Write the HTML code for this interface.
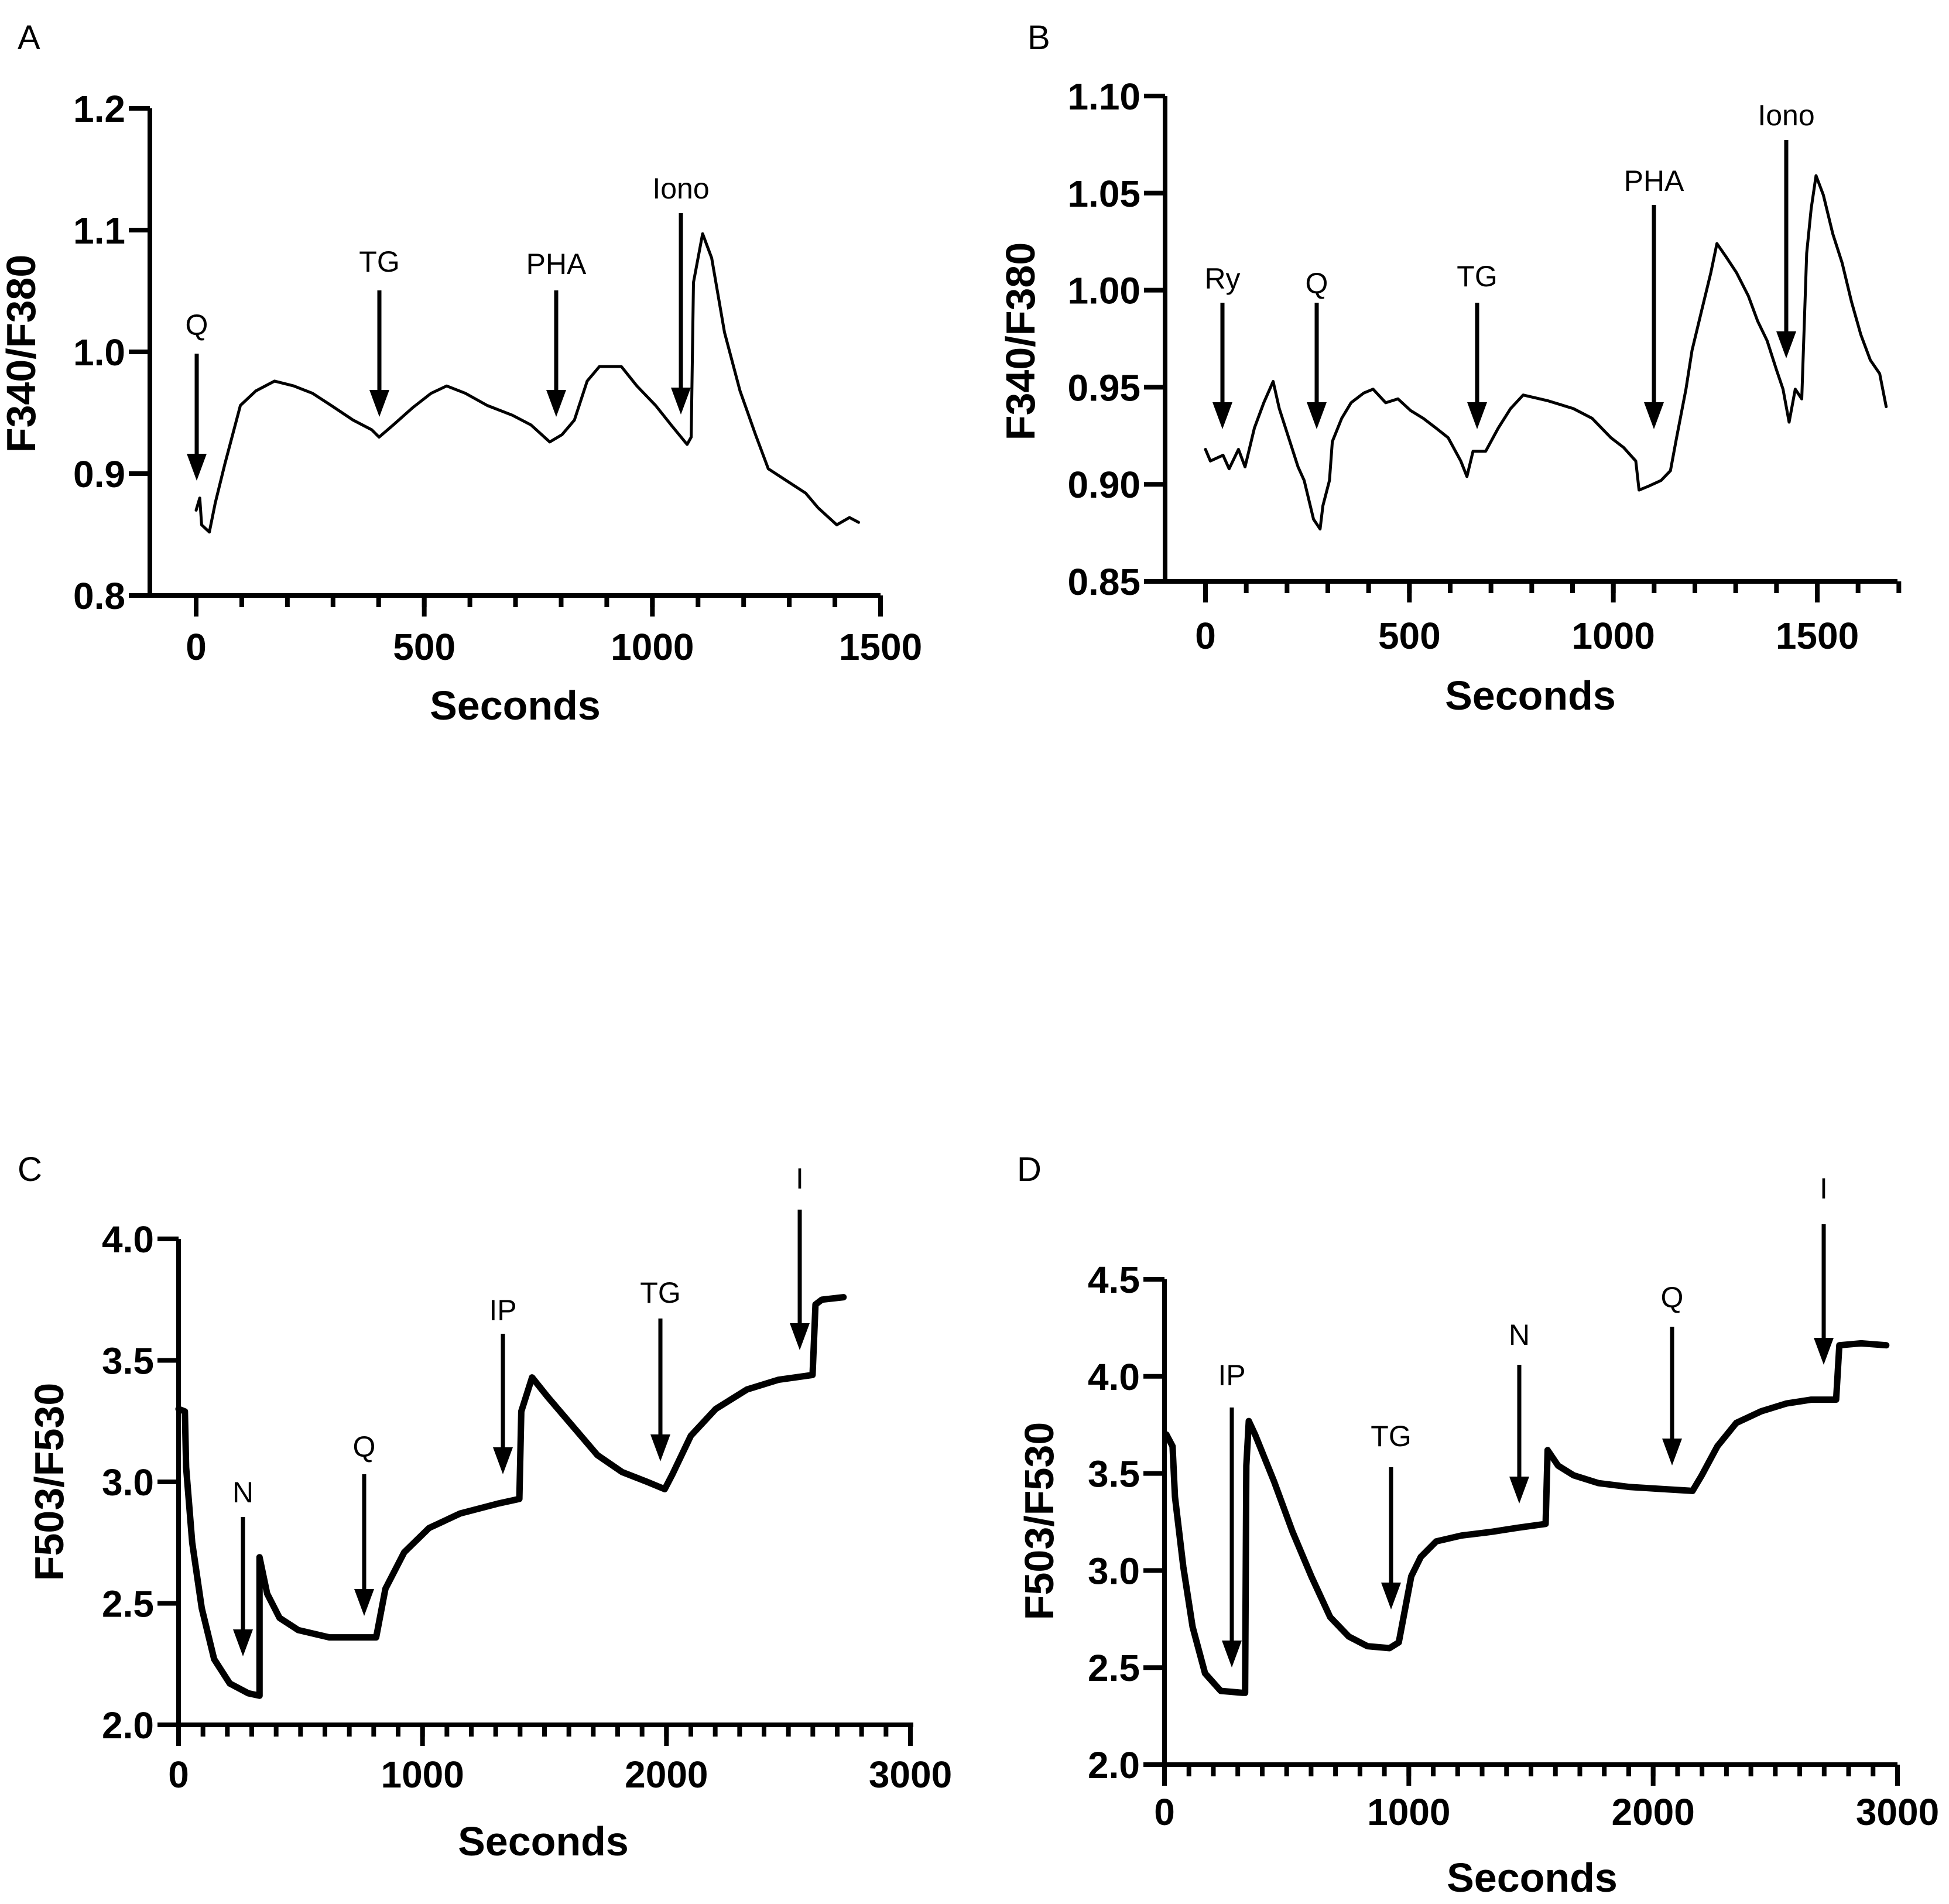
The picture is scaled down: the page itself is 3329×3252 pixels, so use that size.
<!DOCTYPE html>
<html><head><meta charset="utf-8"><style>
html,body{margin:0;padding:0;background:#fff}
svg{display:block}
text{font-family:"Liberation Sans",Arial,sans-serif;fill:#000}
.tick{font-weight:bold;font-size:64px}
.title{font-weight:bold;font-size:70px}
.ann{font-size:50px}
.panel{font-size:58px}
</style></head><body>
<svg id="fig" width="3329" height="3252" viewBox="0 0 3329 3252" xmlns="http://www.w3.org/2000/svg"></svg>
<script>
// Panel A data
const aTimes=[0,8,12,29,42,63,97,131,172,214,255,296,344,385,401,432,474,515,549,590,638,693,734,775,802,829,857,884,932,966,1007,1041,1076,1085,1090,1110,1130,1158,1192,1226,1254,1295,1336,1363,1404,1432,1452];
const aValues=[0.870,0.880,0.858,0.852,0.876,0.908,0.956,0.968,0.976,0.972,0.966,0.956,0.944,0.936,0.930,0.940,0.954,0.966,0.972,0.966,0.956,0.948,0.940,0.926,0.932,0.944,0.976,0.988,0.988,0.972,0.956,0.940,0.924,0.930,1.057,1.097,1.077,1.016,0.968,0.932,0.904,0.894,0.884,0.872,0.858,0.864,0.860];
const aArrowLabels=["Q","TG","PHA","Iono"];
const aYTicks=["0.8","0.9","1.0","1.1","1.2"];
const aXTicks=["0","500","1000","1500"];
// Panel B data
const bTimes=[0,12,43,58,81,97,120,143,166,181,204,227,242,265,281,288,304,311,334,357,388,411,442,472,503,534,565,595,626,641,656,687,718,748,779,840,902,948,994,1025,1055,1063,1086,1117,1140,1155,1178,1193,1216,1239,1254,1277,1302,1331,1354,1377,1400,1416,1431,1446,1462,1474,1485,1497,1515,1538,1561,1584,1607,1630,1653,1669];
const bValues=[0.918,0.912,0.915,0.908,0.918,0.909,0.929,0.942,0.953,0.939,0.924,0.909,0.902,0.882,0.877,0.889,0.902,0.922,0.934,0.942,0.947,0.949,0.942,0.944,0.938,0.934,0.929,0.924,0.912,0.904,0.917,0.917,0.929,0.939,0.946,0.943,0.939,0.934,0.924,0.919,0.912,0.897,0.899,0.902,0.907,0.924,0.949,0.969,0.989,1.009,1.024,1.017,1.009,0.997,0.984,0.974,0.959,0.949,0.932,0.949,0.944,1.019,1.042,1.059,1.049,1.029,1.014,0.994,0.977,0.964,0.957,0.940];
const bArrowLabels=["Ry","Q","TG","PHA","Iono"];
const bYTicks=["0.85","0.90","0.95","1.00","1.05","1.10"];
const bXTicks=["0","500","1000","1500"];
// Panel C data
const cTimes=[0,26,31,56,95,146,210,286,332,332,363,414,491,618,797,810,848,925,1027,1155,1308,1397,1405,1449,1513,1615,1717,1819,1921,1993,2024,2100,2202,2330,2458,2599,2611,2637,2726];
const cValues=[3.30,3.29,3.06,2.75,2.48,2.27,2.17,2.13,2.12,2.69,2.54,2.44,2.39,2.36,2.36,2.36,2.56,2.71,2.81,2.87,2.91,2.93,3.29,3.43,3.35,3.23,3.11,3.04,3.00,2.97,3.03,3.19,3.30,3.38,3.42,3.44,3.73,3.75,3.76];
const cArrowLabels=["N","Q","IP","TG","I"];
const cYTicks=["2.0","2.5","3.0","3.5","4.0"];
const cXTicks=["0","1000","2000","3000"];
// Panel D data
const dTimes=[8,33,43,77,115,166,230,320,330,335,345,371,448,524,601,678,754,831,921,959,1010,1049,1112,1215,1343,1445,1560,1568,1611,1675,1777,1905,2033,2161,2199,2263,2340,2442,2545,2647,2749,2762,2851,2954];
const dValues=[3.70,3.64,3.38,3.02,2.71,2.47,2.38,2.37,2.37,3.54,3.77,3.70,3.46,3.20,2.97,2.76,2.66,2.61,2.60,2.63,2.97,3.07,3.15,3.18,3.20,3.22,3.24,3.62,3.54,3.49,3.45,3.43,3.42,3.41,3.49,3.64,3.76,3.82,3.86,3.88,3.88,4.16,4.17,4.16];
const dArrowLabels=["IP","TG","N","Q","I"];
const dYTicks=["2.0","2.5","3.0","3.5","4.0","4.5"];
const dXTicks=["0","1000","2000","3000"];

const NS="http://www.w3.org/2000/svg";
const svg=document.getElementById('fig');
function mk(tag,attrs,parent){const e=document.createElementNS(NS,tag);for(const k in attrs)e.setAttribute(k,attrs[k]);(parent||svg).appendChild(e);return e;}

function panel(cfg){
  const g=mk('g',{});
  
  
  const sx=t=>cfg.x0+(t-cfg.t0)/(cfg.t1-cfg.t0)*(cfg.x1-cfg.x0);
  const sy=v=>cfg.yb+(v-cfg.vmin)/(cfg.vmax-cfg.vmin)*(cfg.yt-cfg.yb);
  const L=mk('text',{x:cfg.letter[0],y:cfg.letter[1],'class':'panel'},g);L.textContent=cfg.letterText;
  
  
  const ya=mk('line',{x1:cfg.ax,y1:cfg.yt,x2:cfg.ax,y2:cfg.yb+4,stroke:'#000','stroke-width':8},g);
  
  
  const xa=mk('line',{x1:cfg.ax-36,y1:cfg.yb,x2:cfg.xEnd,y2:cfg.yb,stroke:'#000','stroke-width':8},g);
  
  
  cfg.yTicks.forEach(s=>{const v=parseFloat(s),y=sy(v);
    mk('line',{x1:cfg.ax-36,y1:y,x2:cfg.ax,y2:y,stroke:'#000','stroke-width':8},g);
    const t=mk('text',{x:cfg.ax-42,y:y+23,'text-anchor':'end','class':'tick'},g);t.textContent=s;
    
    });
  for(let t=cfg.mStart;t<=cfg.mEnd+1e-6;t+=cfg.minor){const x=sx(t);
    mk('line',{x1:x,y1:cfg.yb,x2:x,y2:cfg.yb+20,stroke:'#000','stroke-width':8},g);}
  cfg.xTicks.forEach(s=>{const v=parseFloat(s),x=sx(v);
    mk('line',{x1:x,y1:cfg.yb,x2:x,y2:cfg.yb+36,stroke:'#000','stroke-width':8},g);
    const t=mk('text',{x:x,y:cfg.xLabY+23,'text-anchor':'middle','class':'tick'},g);t.textContent=s;
    
    });
  const xt=mk('text',{x:cfg.xTitle[0],y:cfg.xTitle[1]+25,'text-anchor':'middle','class':'title'},g);xt.textContent='Seconds';
  
  
  const yt=mk('text',{x:0,y:0,'text-anchor':'middle','class':'title',transform:`translate(${cfg.yTitle[0]+25},${cfg.yTitle[1]}) rotate(-90)`},g);yt.textContent=cfg.yTitleText;
  
  
  const d=cfg.times.map((t,i)=>(i?'L':'M')+sx(t).toFixed(1)+','+sy(cfg.values[i]).toFixed(1)).join(' ');
  const p=mk('path',{d:d,fill:'none',stroke:'#000','stroke-width':cfg.lw,'stroke-linejoin':'round','stroke-linecap':'round'},g);
  
  
  cfg.arrows.forEach((a,i)=>{
    const ag=mk('g',{},g);
    
    
    mk('line',{x1:a[0],y1:a[1],x2:a[0],y2:a[2]-40,stroke:'#000','stroke-width':7},ag);
    mk('polygon',{points:`${a[0]-17},${a[2]-46} ${a[0]+17},${a[2]-46} ${a[0]},${a[2]}`,fill:'#000'},ag);
    const t=mk('text',{x:a[0],y:a[3]+18,'text-anchor':'middle','class':'ann'},ag);t.textContent=cfg.arrowLabels[i];
  });
}

panel({name:'panel-a',letterText:'A',letter:[30,84],ax:256,x0:335,x1:1504,t0:0,t1:1500,xEnd:1504,yt:185,yb:1017,vmin:0.8,vmax:1.2,
  yTicks:aYTicks,xTicks:aXTicks,minor:100,mStart:0,mEnd:1500,xLabY:1104,xTitle:[880,1204],yTitle:[35,604],yTitleText:'F340/F380',
  times:aTimes,values:aValues,lw:5,arrowLabels:aArrowLabels,
  arrows:[[336,604,821,554],[648,496,712,446],[950,496,712,450],[1163,364,708,321]]});
panel({name:'panel-b',letterText:'B',letter:[1755,84],ax:1990,x0:2059,x1:3104,t0:0,t1:1500,xEnd:3241,yt:164,yb:993,vmin:0.85,vmax:1.10,
  yTicks:bYTicks,xTicks:bXTicks,minor:100,mStart:0,mEnd:1700,xLabY:1085,xTitle:[2614,1187],yTitle:[1742,583],yTitleText:'F340/F380',
  times:bTimes,values:bValues,lw:5,arrowLabels:bArrowLabels,
  arrows:[[2088,517,733,475],[2249,517,733,483],[2523,517,733,471],[2825,350,733,308],[3051,239,612,196]]});
panel({name:'panel-c',letterText:'C',letter:[30,2017],ax:305,x0:305,x1:1555,t0:0,t1:3000,xEnd:1560,yt:2116,yb:2946,vmin:2.0,vmax:4.0,
  yTicks:cYTicks,xTicks:cXTicks,minor:100,mStart:0,mEnd:3000,xLabY:3030,xTitle:[928,3144],yTitle:[83,2531],yTitleText:'F503/F530',
  times:cTimes,values:cValues,lw:11,arrowLabels:cArrowLabels,
  arrows:[[415,2591,2829,2548],[622,2518,2760,2470],[859,2278,2518,2237],[1128,2252,2496,2207],[1366,2066,2306,2012]]});
panel({name:'panel-d',letterText:'D',letter:[1737,2017],ax:1989,x0:1989,x1:3241,t0:0,t1:3000,xEnd:3241,yt:2185,yb:3014,vmin:2.0,vmax:4.5,
  yTicks:dYTicks,xTicks:dXTicks,minor:100,mStart:0,mEnd:3000,xLabY:3094,xTitle:[2617,3206],yTitle:[1774,2598],yTitleText:'F503/F530',
  times:dTimes,values:dValues,lw:11,arrowLabels:dArrowLabels,
  arrows:[[2104,2404,2848,2348],[2376,2506,2749,2452],[2595,2331,2568,2279],[2856,2266,2503,2215],[3115,2091,2331,2029]]});
</script>
</body></html>
